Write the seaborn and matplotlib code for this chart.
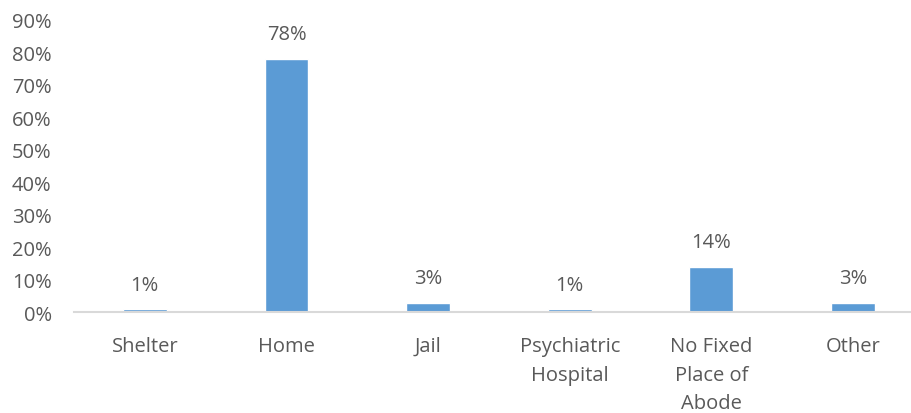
import matplotlib
matplotlib.use("Agg")
import matplotlib.pyplot as plt
import seaborn as sns
import pandas as pd

categories = ["Shelter", "Home", "Jail", "Psychiatric\nHospital", "No Fixed\nPlace of\nAbode", "Other"]
percentages = [1, 78, 3, 1, 14, 3]
y_ticks = [0, 10, 20, 30, 40, 50, 60, 70, 80, 90]

sns.set_theme(style="white")
plt.rcParams["font.family"] = ["Open Sans", "DejaVu Sans"]

text_color = "#595959"
bar_color = "#5B9BD5"

df = pd.DataFrame({"category": categories, "pct": percentages})

fig = plt.figure(figsize=(9.12, 4.14), dpi=100)
ax = fig.add_axes([0.0811, 0.2428, 0.932, 0.7065])

sns.barplot(data=df, x="category", y="pct", color=bar_color, width=0.31,
            saturation=1, ax=ax)

ax.set_ylim(0, 90)
ax.set_xlim(-0.5, len(categories) - 0.5)
ax.set_yticks(y_ticks)
ax.set_yticklabels([f"{v}%" for v in y_ticks])
ax.set_xlabel("")
ax.set_ylabel("")

for patch, v in zip(ax.patches, percentages):
    ax.annotate(f"{v}%", (patch.get_x() + patch.get_width() / 2, patch.get_height()),
                xytext=(0, 10.5), textcoords="offset points", ha="center", va="bottom",
                fontsize=14.5, color=text_color)

for side in ["top", "right", "left"]:
    ax.spines[side].set_visible(False)
ax.spines["bottom"].set_color("#D9D9D9")
ax.spines["bottom"].set_linewidth(1.5)

ax.tick_params(axis="y", length=0, pad=16, labelsize=14.5, labelcolor=text_color)
ax.tick_params(axis="x", length=0, pad=17, labelsize=14.5, labelcolor=text_color)
for lbl in ax.get_xticklabels():
    lbl.set_linespacing(1.58)
    lbl.set_verticalalignment("top")

fig.savefig("out.png", dpi=100)
